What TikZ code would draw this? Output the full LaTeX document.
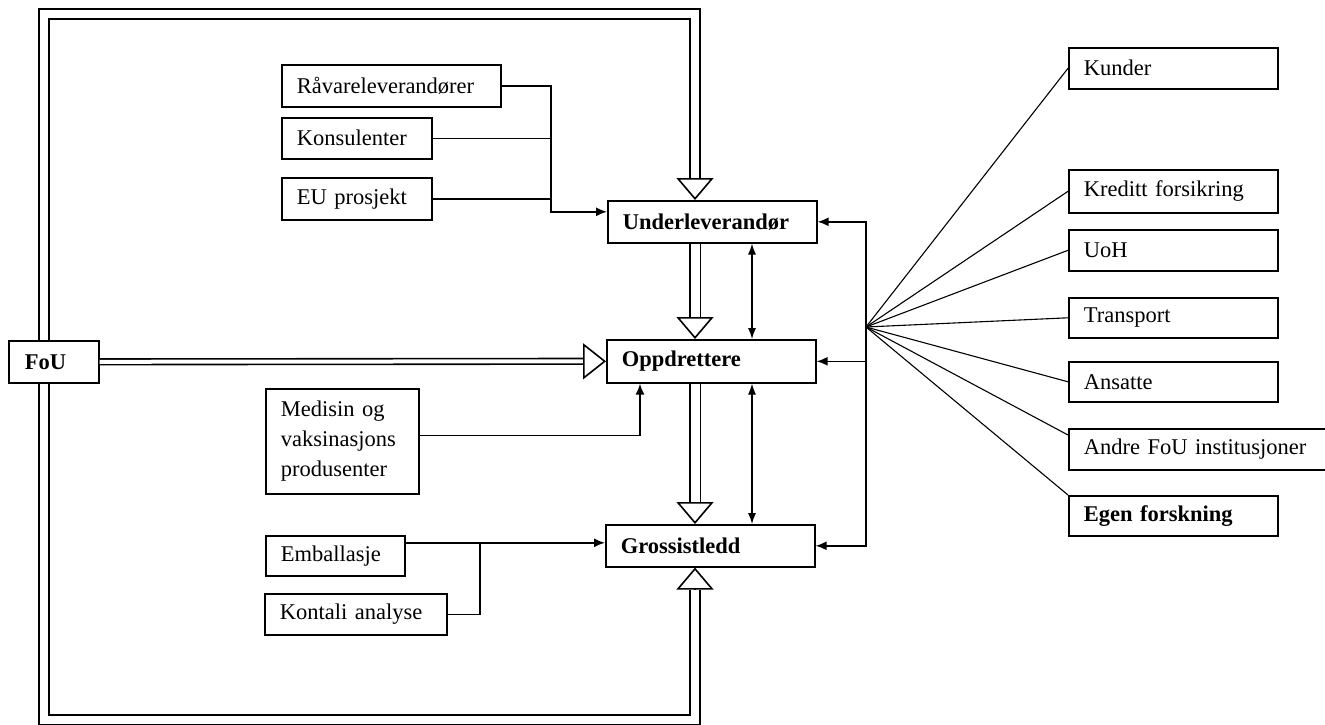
\documentclass[tikz,border=0pt]{standalone}
\usepackage{fontspec}
\setmainfont{Liberation Serif}
\usetikzlibrary{arrows.meta,calc}
\begin{document}
\begin{tikzpicture}[x=1pt,y=-1pt,
  box/.style={draw, line width=1.6pt, anchor=north west, inner xsep=15pt, inner ysep=0pt, align=left, font=\fontsize{22.5}{30}\selectfont},
  bbox/.style={box, font=\fontsize{22.5}{30}\selectfont\bfseries},
  ln/.style={line width=1.6pt},
  arr/.style={ln, -{Latex[length=11pt,width=9pt]}},
  darr/.style={line width=1.2pt, {Latex[length=11pt,width=8pt]}-{Latex[length=11pt,width=8pt]}},
  fan/.style={line width=1.1pt},
  dbl/.style={line width=1.6pt, double, double distance=8pt},
  tri/.style={line width=1.6pt, -{Triangle[open, length=22pt, width=37pt]}},
]
\useasboundingbox (0,0) rectangle (1325,725);

% left boxes
\node[box, text width=189pt, minimum height=42pt] (R) at (281,64) {Råvareleverandører};
\node[box, text width=120pt, minimum height=41pt] (K) at (281,117) {Konsulenter};
\node[box, text width=120pt, minimum height=42pt] (EU) at (281,177) {EU prosjekt};
\node[box, text width=123pt, minimum height=105pt] (M) at (265,388) {Medisin og\\vaksinasjons\\produsenter};
\node[box, text width=109pt, minimum height=40pt] (Em) at (265,535) {Emballasje};
\node[box, text width=152pt, minimum height=41pt] (Ko) at (264,593) {Kontali analyse};
\node[bbox, inner xsep=16pt, text width=58pt, minimum height=42pt] (FoU) at (8,340) {FoU};

% centre boxes
\node[bbox, text width=179pt, minimum height=42pt] (U) at (607,200) {Underleverandør};
\node[bbox, text width=179pt, minimum height=43pt] (O) at (606,339) {Oppdrettere};
\node[bbox, text width=179pt, minimum height=42pt] (G) at (605,524) {Grossistledd};

% right boxes
\node[box, text width=179pt, minimum height=41pt] (Ku) at (1068,47) {Kunder};
\node[box, text width=179pt, minimum height=43pt] (Kr) at (1068,169) {Kreditt forsikring};
\node[box, text width=179pt, minimum height=41pt] (UoH) at (1068,229) {UoH};
\node[box, text width=179pt, minimum height=40pt] (Tr) at (1068,297) {Transport};
\node[box, text width=179pt, minimum height=40pt] (An) at (1068,361) {Ansatte};
\node[box, text width=235pt, minimum height=41pt] (AF) at (1068,428) {Andre FoU institusjoner};
\node[bbox, text width=179pt, minimum height=40pt] (Eg) at (1068,495) {Egen forskning};

\coordinate (ax) at (695,0);
\coordinate (lx) at (44,0);
\coordinate (tp) at (0,14);
\coordinate (bt) at (0,720);

% frame (top part) into Underleverandor
\draw[dbl] (lx |- FoU.north) -- (lx |- tp) -- (ax |- tp) -- ($(ax |- U.north)+(0,-22)$);
\draw[tri] ($(ax |- U.north)+(0,-22)$) -- (ax |- U.north);
% frame (bottom part) into Grossistledd
\draw[dbl] (lx |- FoU.south) -- (lx |- bt) -- (ax |- bt) -- ($(ax |- G.south)+(0,22)$);
\draw[tri] ($(ax |- G.south)+(0,22)$) -- (ax |- G.south);
% Underleverandor -> Oppdrettere -> Grossistledd
\draw[dbl, double distance=9pt] (ax |- U.south) -- ($(ax |- O.north)+(0,-22)$);
\draw[tri] ($(ax |- O.north)+(0,-22)$) -- (ax |- O.north);
\draw[dbl, double distance=9pt] (ax |- O.south) -- ($(ax |- G.north)+(0,-22)$);
\draw[tri] ($(ax |- G.north)+(0,-22)$) -- (ax |- G.north);
% FoU -> Oppdrettere
\draw[dbl, double distance=4pt] (FoU.east) -- ($(O.west)+(-23,0)$);
\draw[line width=1.6pt, -{Triangle[open, length=23pt, width=36pt]}] ($(O.west)+(-23,0)$) -- (O.west);

% thin two-way arrows
\coordinate (dx) at (752,0);
\draw[darr] (dx |- U.south) -- (dx |- O.north);
\draw[darr] (dx |- O.south) -- (dx |- G.north);

% right side
\coordinate (F) at (866,327);
\draw[arr] (F) |- (U.east);
\draw[arr] (F) |- (O.east);
\draw[arr] (F) |- (G.east);
\draw[fan] (F) -- (Ku.west);
\draw[fan] (F) -- (Kr.west);
\draw[fan] (F) -- (UoH.west);
\draw[fan] (F) -- (Tr.west);
\draw[fan] (F) -- (An.west);
\draw[fan] (F) -- ([yshift=-7pt]AF.north west);
\draw[fan] (F) -- (Eg.north west);

% left connectors
\coordinate (jx) at (551,0);
\coordinate (U1) at ([yshift=10pt]U.west);
\draw[arr] (R.east) -| (jx |- U1) -- (U1);
\draw[ln] (K.east) -- (K.east -| jx);
\draw[ln] (EU.east) -- (EU.east -| jx);

\coordinate (mx) at (640,0);
\draw[arr] ([yshift=6pt]M.east) -| (mx |- O.south);

\coordinate (G1) at ([yshift=3pt]G.west);
\draw[arr] (Em.east |- G1) -- (G1);
\coordinate (kx) at (480,0);
\draw[ln] (Ko.east) -| (kx |- G1);
\end{tikzpicture}
\end{document}
